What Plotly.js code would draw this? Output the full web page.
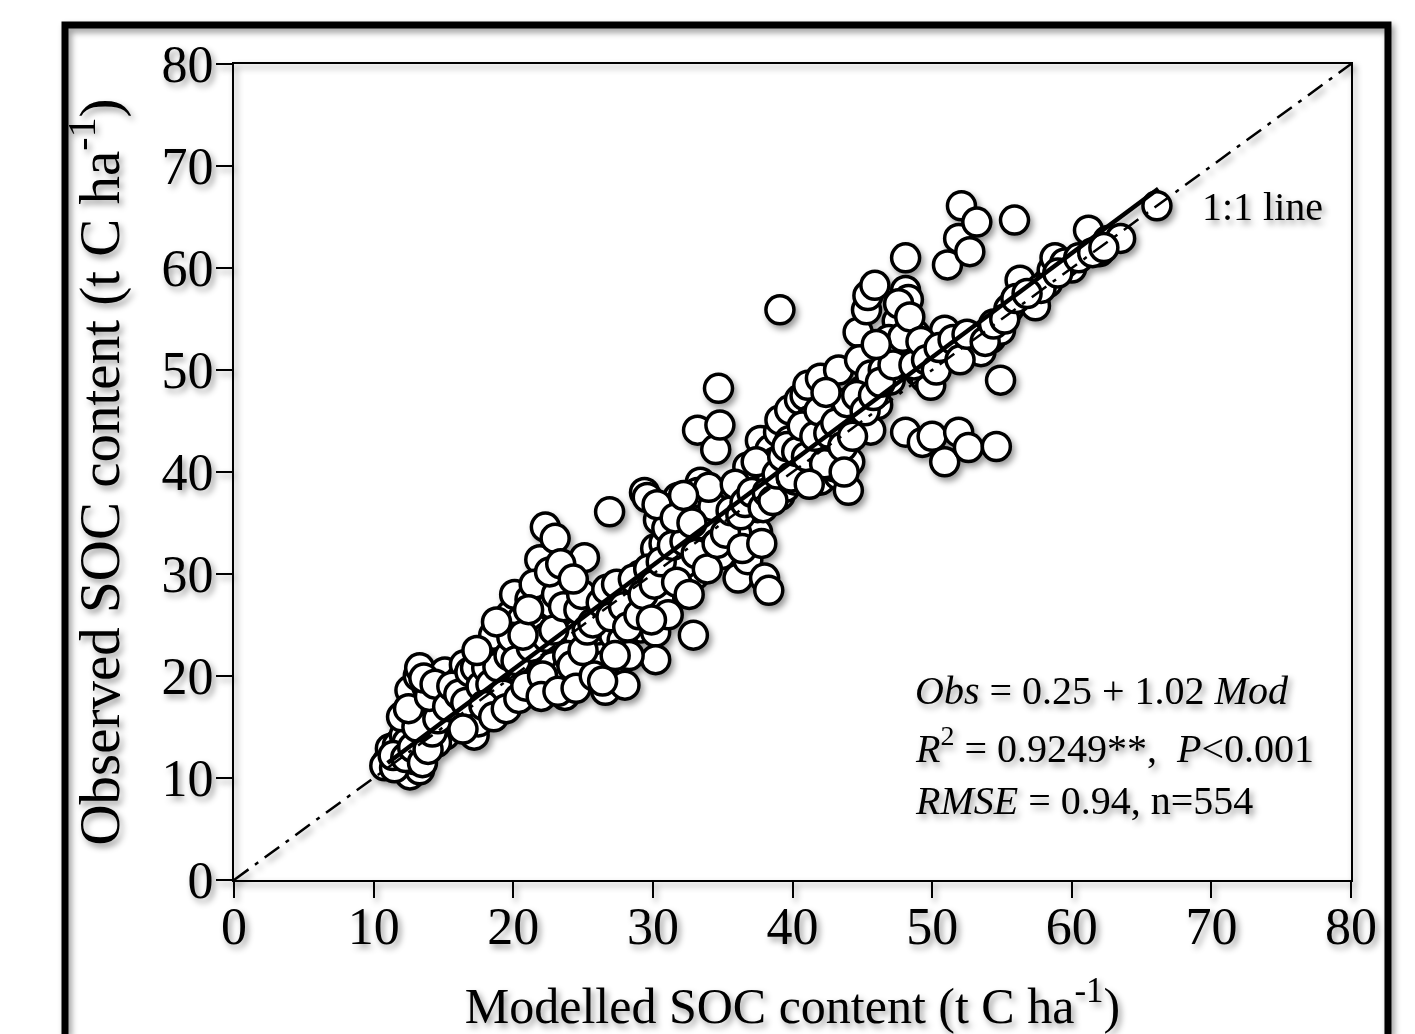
<!DOCTYPE html>
<html>
<head>
<meta charset="utf-8">
<script src="https://cdn.plot.ly/plotly-3.0.1.min.js"></script>
<style>
  html, body { margin: 0; padding: 0; background: #ffffff; }
  #chart { width: 1415px; height: 1034px; }
  #chart .main-svg { filter: drop-shadow(3px 4px 3px rgba(0,0,0,0.40)); }
</style>
</head>
<body>
<div id="chart"></div>
<script>
// ---- Data (modelled vs observed SOC, t C/ha) ----
const modelled = [
  // 10-15
  11.0,11.2,11.7,12.1,12.6,13.3,13.3,12.9,11.9,12.2,12.7,13.3,13.0,12.6,13.2,13.3,14.0,14.2,14.8,14.8,15.1,15.1,15.1,10.8,11.5,12.4,13.6,12.0,13.8,14.5,
  // 15-20
  15.8,16.2,16.5,16.2,16.2,16.9,17.2,17.2,17.6,18.0,18.3,18.7,18.9,19.1,19.4,19.4,19.8,19.5,19.8,18.5,17.8,16.8,18.2,19.0,17.5,19.6,18.8,16.0,15.5,17.0,18.0,19.2,18.6,
  // 20-25
  20.1,20.5,20.5,21.0,21.2,21.2,21.6,21.9,21.9,21.9,22.3,22.3,22.3,22.5,22.6,23.0,23.0,23.0,23.3,23.3,23.3,23.7,24.4,24.4,24.4,24.4,24.8,25.1,25.1,25.5,20.8,21.5,22.0,22.8,23.5,24.0,20.3,21.8,22.8,24.0,20.6,23.8,24.6,
  // 25-30
  25.9,26.2,26.2,26.6,26.9,27.1,27.5,27.6,27.6,28.0,28.4,29.1,29.1,29.4,29.8,30.2,30.2,30.2,26.0,26.8,27.2,28.0,28.5,29.5,25.5,26.5,27.8,28.8,29.6,
  // 30-35
  30.4,30.5,30.5,30.9,31.1,31.2,31.8,31.9,32.5,32.7,32.7,32.9,33.0,33.2,33.4,33.4,34.1,34.2,34.5,34.7,34.8,34.8,34.9,31.5,32.0,33.5,34.0,31.8,33.8,30.8,32.2,34.5,33.2,
  // 35-40
  35.5,36.1,36.2,36.8,37.0,37.0,37.3,37.5,37.7,37.7,38.0,38.3,38.4,38.4,39.0,39.1,39.1,39.1,39.8,39.8,35.8,36.5,38.0,38.8,39.5,36.0,37.5,38.5,39.5,36.8,
  // 40-45
  40.2,40.6,40.5,40.9,41.1,41.3,41.3,41.8,42.0,42.0,42.5,42.7,43.0,43.3,43.3,43.4,43.4,43.8,44.0,44.1,44.1,44.7,44.8,45.0,40.8,41.5,42.2,43.0,44.5,42.8,
  // 45-50
  45.3,45.4,45.6,45.6,45.9,46.1,46.8,47.3,47.8,48.1,48.1,48.1,48.1,48.3,48.6,49.0,49.1,49.3,49.5,49.9,47.5,46.5,48.8,47.0,
  // 50+
  50.0,50.7,50.9,50.9,51.1,51.3,51.6,51.9,51.9,52.1,52.3,52.6,52.7,53.1,53.2,53.5,54.2,54.6,54.9,54.9,55.9,56.3,57.4,58.3,58.6,58.8,60.0,61.2,62.0,62.6,63.5,66.1,55.5,57.8,59.5,
  // dense band, second reading
  11.4,12.3,12.8,13.5,13.9,14.2,13.1,14.6,12.5,14.0,13.6,14.4,
  15.3,15.6,16.1,16.6,16.9,17.3,17.7,18.1,18.4,18.9,19.3,19.7,19.9,17.9,16.4,18.6,19.5,17.4,18.8,
  20.2,20.4,20.9,21.3,21.7,21.5,22.1,22.4,22.9,23.1,23.6,23.9,24.2,24.7,24.9,20.7,21.1,22.6,23.4,24.3,25.0,22.0,23.2,24.5,
  25.3,25.7,26.3,26.7,27.0,27.4,27.9,28.2,28.6,29.0,29.3,29.7,25.8,26.4,28.3,29.9,27.3,
  30.1,30.6,31.0,31.4,31.7,32.3,32.6,33.1,33.6,33.9,34.3,34.6,30.3,31.6,32.8,34.0,32.2,
  35.2,35.6,35.9,36.3,36.6,37.1,37.4,37.9,38.2,38.6,38.9,39.3,39.6,39.9,36.4,37.8,
  40.3,40.7,41.0,41.6,41.9,42.3,42.6,43.1,43.6,43.9,44.3,44.6,41.2,42.4,43.7,
  45.2,45.8,46.3,46.9,47.2,47.6,47.9,48.4,48.7,49.2,49.6,46.0,
  50.3,50.5,51.5,52.0,52.5,53.8,54.4,55.2,56.0,56.8,59.0,60.5,61.5,62.3
];
const observed = [
  // 10-15
  11.6,12.9,13.2,11.3,10.3,10.8,12.5,11.8,12.5,14.2,15.5,16.2,17.2,18.6,20.0,20.8,15.2,17.6,18.6,16.7,15.7,14.2,20.4,11.2,11.0,13.5,14.0,16.0,19.0,13.5,
  // 15-20
  18.1,19.6,21.1,16.7,15.7,16.7,18.6,14.2,17.6,19.6,22.1,18.6,22.5,17.6,21.1,23.5,18.6,25.3,26.0,20.5,21.5,20.0,16.5,19.5,15.5,20.2,17.2,17.5,16.0,19.0,18.0,24.2,24.0,
  // 20-25
  28.0,19.6,23.0,24.0,21.6,27.5,18.6,20.6,23.5,31.4,25.5,29.4,34.6,28.4,18.6,33.5,19.6,25.0,22.5,26.0,29.4,18.1,22.1,19.6,27.0,28.4,25.0,21.1,31.6,23.5,22.0,25.0,22.5,21.0,24.0,23.0,20.8,26.5,27.0,25.5,25.5,20.5,24.2,
  // 25-30
  27.5,23.0,25.3,18.6,36.1,20.6,27.6,22.5,28.4,19.1,26.3,24.7,29.9,38.0,28.4,24.3,21.6,32.5,24.5,26.0,24.0,25.5,27.5,27.0,26.0,21.0,23.5,28.8,37.5,
  // 30-35
  35.3,27.5,29.4,31.4,26.0,33.3,37.0,32.5,30.2,34.3,36.3,24.0,29.9,44.1,31.4,39.0,37.5,32.5,42.2,48.2,44.6,35.1,31.9,30.0,34.0,33.5,35.0,37.5,36.0,33.0,31.0,34.0,38.0,
  // 35-40
  35.3,29.6,36.8,31.4,39.2,35.3,37.7,34.1,40.2,43.1,29.6,28.4,42.2,38.7,43.9,45.1,37.7,55.9,46.1,43.1,37.5,38.5,40.5,41.0,40.0,34.0,36.5,39.5,38.5,40.5,
  // 40-45
  39.2,41.2,47.1,47.5,48.5,45.1,40.2,44.3,39.2,49.2,41.7,46.6,43.1,39.7,50.0,45.3,41.2,44.1,38.2,45.9,41.0,53.7,51.0,48.0,43.0,42.5,44.0,40.5,46.5,42.8,
  // 45-50
  55.9,57.3,49.5,44.1,58.3,46.6,51.0,52.0,55.9,57.8,61.0,54.4,43.9,56.9,52.9,51.5,49.8,42.9,49.2,48.5,54.8,50.0,53.5,49.0,
  // 50+
  43.5,51.0,53.9,41.0,60.3,52.5,51.5,62.9,43.9,66.1,52.9,42.4,61.6,52.5,64.5,51.8,53.1,42.5,53.9,49.0,64.7,58.8,56.3,58.6,59.8,61.0,60.0,63.7,61.6,62.7,62.9,66.1,56.0,58.0,60.5,
  // dense band, second reading
  12.2,12.0,13.0,11.5,12.8,14.5,15.0,15.8,16.8,18.0,19.8,19.2,
  17.0,19.0,18.2,17.4,20.4,20.8,19.0,20.8,19.2,20.9,18.2,22.0,23.8,17.1,14.8,16.0,16.8,22.5,25.3,
  21.5,17.8,19.0,22.8,24.5,29.0,20.0,23.8,24.5,28.0,26.8,22.0,21.0,26.5,28.0,24.0,26.5,30.2,31.0,29.5,22.5,18.0,18.5,18.8,
  24.5,25.2,27.2,28.5,25.8,29.0,26.8,24.8,29.5,26.0,28.0,30.5,20.0,19.5,22.0,25.5,22.0,
  29.0,31.2,34.5,32.8,29.2,33.2,28.0,32.0,34.8,30.5,36.6,33.0,36.8,35.5,35.0,38.5,37.7,
  34.0,36.2,38.8,35.8,37.0,38.0,41.0,36.5,38.0,37.2,39.8,41.5,42.5,39.5,32.5,33.0,
  42.0,44.5,41.5,43.5,46.0,40.8,43.8,44.8,42.5,46.8,43.5,47.5,38.8,47.8,40.0,
  46.0,47.5,48.8,53.0,50.5,56.5,53.2,55.2,50.5,52.8,51.0,52.5,
  50.0,52.2,53.0,51.0,53.5,52.8,54.5,55.0,57.0,57.5,59.5,61.0,61.5,62.0
];

// regression line given on the chart: Obs = 0.25 + 1.02 Mod
const fitIntercept = 0.25;
const fitSlope = 1.02;
const fitRange = [11.0, 66.2];
const oneToOne = [0, 80];

const axisTicks = [0, 10, 20, 30, 40, 50, 60, 70, 80];
const eqLines = [
  '<i>Obs</i> = 0.25 + 1.02 <i>Mod</i>',
  '<i>R</i><sup>2</sup> = 0.9249**,  <i>P</i><0.001',
  '<i>RMSE</i> = 0.94, n=554'
];

const serif = '"Liberation Serif", "Times New Roman", Times, serif';

const traces = [
  {
    type: 'scatter', mode: 'markers', x: modelled, y: observed,
    marker: { symbol: 'circle', size: 28, color: '#ffffff', line: { color: '#000000', width: 3.5 } },
    hoverinfo: 'x+y', showlegend: false
  },
  {
    type: 'scatter', mode: 'lines', x: oneToOne, y: oneToOne,
    line: { color: '#000000', width: 2.5, dash: '18px,8px,4px,8px' },
    showlegend: false, hoverinfo: 'skip'
  },
  {
    type: 'scatter', mode: 'lines', x: fitRange,
    y: fitRange.map(v => fitIntercept + fitSlope * v),
    line: { color: '#000000', width: 4.5 },
    showlegend: false, hoverinfo: 'skip'
  }
];

const axisCommon = {
  range: [0, 80], tickmode: 'array', tickvals: axisTicks,
  ticks: 'outside', ticklen: 16, tickwidth: 2, tickcolor: '#000',
  showline: true, linewidth: 2, linecolor: '#000', mirror: true,
  showgrid: false, zeroline: false, fixedrange: true,
  tickfont: { family: serif, size: 52, color: '#000' }
};

const layout = {
  width: 1415, height: 1034,
  margin: { l: 234, r: 64, t: 64, b: 154 },
  paper_bgcolor: 'rgba(0,0,0,0)', plot_bgcolor: 'rgba(0,0,0,0)',
  font: { family: serif, color: '#000' },
  showlegend: false,
  xaxis: Object.assign({}, axisCommon, {
    ticklabelstandoff: -16,
    title: { text: 'Modelled SOC content (t C ha<sup>-1</sup>)', font: { family: serif, size: 50, color: '#000' }, standoff: 44 }
  }),
  yaxis: Object.assign({}, axisCommon, {
    ticklabelstandoff: -8,
    title: { text: 'Observed SOC content (t C ha<sup>-1</sup>)', font: { family: serif, size: 57, color: '#000' }, standoff: 24 }
  }),
  annotations: [
    { xref: 'x', yref: 'y', x: 69.2, y: 66.0, xanchor: 'left', yanchor: 'middle', text: '1:1 line', showarrow: false, font: { family: serif, size: 40, color: '#000' } },
    { xref: 'x', yref: 'y', x: 48.6, y: 18.6, xanchor: 'left', yanchor: 'middle', text: eqLines[0], showarrow: false, font: { family: serif, size: 40, color: '#000' } },
    { xref: 'x', yref: 'y', x: 48.6, y: 13.2, xanchor: 'left', yanchor: 'middle', text: eqLines[1], showarrow: false, font: { family: serif, size: 40, color: '#000' } },
    { xref: 'x', yref: 'y', x: 48.6, y: 7.8, xanchor: 'left', yanchor: 'middle', text: eqLines[2], showarrow: false, font: { family: serif, size: 40, color: '#000' } }
  ],
  shapes: [
    { type: 'rect', xref: 'paper', yref: 'paper', x0: -0.1513, x1: 1.0331, y0: -0.22, y1: 1.0478, line: { color: '#000', width: 7 }, fillcolor: 'rgba(0,0,0,0)', layer: 'above' }
  ]
};

Plotly.newPlot('chart', traces, layout, { displayModeBar: false, staticPlot: true });
</script>
</body>
</html>
